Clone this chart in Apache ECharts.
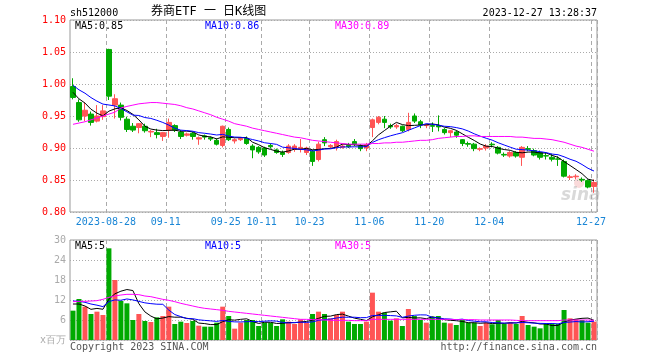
<!DOCTYPE html>
<html><head><meta charset="utf-8">
<script src="https://cdn.jsdelivr.net/npm/echarts@6/dist/echarts.min.js"></script>
<style>html,body{margin:0;padding:0;background:#fff}#c{width:660px;height:360px}</style>
</head><body><div id="c"></div>
<script>
// ---- data ----
const dates = ['2023-08-18','2023-08-21','2023-08-22','2023-08-23','2023-08-24','2023-08-25',
'2023-08-28','2023-08-29','2023-08-30','2023-08-31','2023-09-01',
'2023-09-04','2023-09-05','2023-09-06','2023-09-07','2023-09-08',
'2023-09-11','2023-09-12','2023-09-13','2023-09-14','2023-09-15',
'2023-09-18','2023-09-19','2023-09-20','2023-09-21','2023-09-22',
'2023-09-25','2023-09-26','2023-09-27','2023-09-28',
'2023-10-09','2023-10-10','2023-10-11','2023-10-12','2023-10-13',
'2023-10-16','2023-10-17','2023-10-18','2023-10-19','2023-10-20',
'2023-10-23','2023-10-24','2023-10-25','2023-10-26','2023-10-27',
'2023-10-30','2023-10-31','2023-11-01','2023-11-02','2023-11-03',
'2023-11-06','2023-11-07','2023-11-08','2023-11-09','2023-11-10',
'2023-11-13','2023-11-14','2023-11-15','2023-11-16','2023-11-17',
'2023-11-20','2023-11-21','2023-11-22','2023-11-23','2023-11-24',
'2023-11-27','2023-11-28','2023-11-29','2023-11-30','2023-12-01',
'2023-12-04','2023-12-05','2023-12-06','2023-12-07','2023-12-08',
'2023-12-11','2023-12-12','2023-12-13','2023-12-14','2023-12-15',
'2023-12-18','2023-12-19','2023-12-20','2023-12-21','2023-12-22',
'2023-12-25','2023-12-26','2023-12-27'];
// [open, close, low, high]
const ohlc = [
[0.996,0.979,0.976,1.009],[0.971,0.944,0.941,0.976],[0.950,0.959,0.942,0.971],[0.953,0.940,0.935,0.957],
[0.942,0.950,0.940,0.967],[0.949,0.958,0.944,0.967],[1.054,0.981,0.975,1.055],[0.967,0.977,0.946,0.984],
[0.967,0.948,0.943,0.971],[0.945,0.929,0.925,0.949],[0.934,0.928,0.925,0.939],[0.932,0.938,0.923,0.939],
[0.934,0.927,0.924,0.938],[0.925,0.926,0.917,0.928],[0.924,0.921,0.915,0.930],[0.918,0.924,0.911,0.925],
[0.928,0.940,0.916,0.946],[0.935,0.928,0.925,0.937],[0.925,0.918,0.914,0.928],[0.920,0.922,0.918,0.924],
[0.923,0.918,0.913,0.925],[0.914,0.916,0.905,0.918],[0.919,0.917,0.913,0.921],[0.916,0.914,0.911,0.918],
[0.912,0.906,0.904,0.915],[0.904,0.934,0.901,0.935],[0.929,0.913,0.911,0.932],[0.911,0.913,0.907,0.915],
[0.913,0.915,0.911,0.917],[0.915,0.907,0.905,0.918],[0.903,0.897,0.884,0.906],[0.901,0.894,0.891,0.903],
[0.900,0.889,0.886,0.902],[0.904,0.902,0.899,0.907],[0.897,0.893,0.891,0.899],[0.893,0.890,0.886,0.896],
[0.893,0.903,0.891,0.906],[0.898,0.903,0.894,0.906],[0.899,0.901,0.893,0.914],[0.893,0.900,0.889,0.902],
[0.895,0.879,0.872,0.897],[0.882,0.906,0.879,0.910],[0.913,0.908,0.903,0.917],[0.902,0.904,0.900,0.906],
[0.902,0.910,0.896,0.913],[0.901,0.903,0.899,0.906],[0.904,0.902,0.900,0.908],[0.910,0.906,0.903,0.914],
[0.903,0.899,0.895,0.906],[0.900,0.905,0.895,0.908],[0.932,0.944,0.917,0.946],[0.940,0.948,0.937,0.950],
[0.945,0.940,0.931,0.950],[0.935,0.933,0.930,0.938],[0.933,0.935,0.930,0.938],[0.934,0.927,0.925,0.935],
[0.929,0.940,0.926,0.955],[0.950,0.942,0.939,0.954],[0.941,0.936,0.931,0.944],[0.935,0.936,0.931,0.938],
[0.935,0.934,0.925,0.940],[0.935,0.933,0.926,0.951],[0.929,0.924,0.921,0.931],[0.924,0.927,0.917,0.928],
[0.925,0.920,0.916,0.927],[0.913,0.907,0.903,0.914],[0.907,0.906,0.902,0.910],[0.906,0.899,0.895,0.908],
[0.898,0.899,0.895,0.901],[0.900,0.903,0.896,0.906],[0.906,0.905,0.901,0.909],[0.901,0.892,0.890,0.903],
[0.890,0.889,0.886,0.893],[0.8875,0.893,0.885,0.895],[0.893,0.8875,0.885,0.895],[0.8855,0.901,0.872,0.903],
[0.899,0.898,0.895,0.903],[0.896,0.889,0.887,0.899],[0.893,0.8855,0.882,0.896],[0.888,0.8875,0.882,0.893],
[0.8855,0.8825,0.879,0.891],[0.883,0.8825,0.872,0.887],[0.879,0.856,0.854,0.882],[0.854,0.855,0.850,0.858],
[0.855,0.856,0.851,0.859],[0.851,0.850,0.847,0.854],[0.849,0.839,0.837,0.851],[0.840,0.846,0.830,0.851]];
// volume, millions
const volume = [8.8,12.3,10.0,7.8,8.5,7.5,27.5,18.0,11.7,11.0,
6.0,7.8,5.7,5.4,6.8,7.2,10.0,4.8,5.5,5.1,
5.7,4.3,4.0,4.0,5.2,10.0,7.2,3.4,5.2,6.0,
6.0,4.2,5.2,5.2,4.2,6.2,5.5,4.8,6.2,5.2,
7.8,8.5,7.8,6.5,7.5,8.5,5.5,4.8,4.8,5.5,
14.2,8.5,8.2,5.8,6.5,4.2,9.3,7.2,6.0,5.2,
7.0,7.2,5.2,5.0,4.5,6.0,5.2,5.2,4.2,5.2,
4.7,6.0,4.8,5.2,4.8,7.2,4.5,4.0,3.5,4.8,
4.8,4.8,9.0,6.5,6.2,6.0,5.2,5.5];
// closes / volumes of the sessions just before the window (for MA5/MA10 start)
const priorClose = [1.015,1.012,1.008,1.006,1.004,0.995,0.992,0.988,0.981];
const priorVolume = [13.2,13.0,12.9,12.0,11.9,12.3,13.0,12.8,7.1];
// MA30
const priceMA30 = [0.937,0.939,0.941,0.944,0.947,0.950,0.953,0.956,0.9625,0.965,
0.967,0.969,0.970,0.971,0.971,0.970,0.969,0.968,0.966,0.963,
0.961,0.958,0.955,0.952,0.948,0.945,0.942,0.938,0.936,0.934,
0.931,0.929,0.927,0.925,0.923,0.921,0.919,0.917,0.916,0.914,
0.912,0.911,0.910,0.909,0.908,0.907,0.906,0.906,0.906,0.906,
0.907,0.907,0.908,0.908,0.909,0.909,0.910,0.911,0.912,0.912,
0.913,0.915,0.916,0.917,0.918,0.918,0.919,0.919,0.918,0.918,
0.918,0.918,0.918,0.918,0.917,0.917,0.916,0.915,0.915,0.914,
0.913,0.911,0.909,0.906,0.903,0.901,0.898,0.895];
const volMA30 = [11.5,11.6,11.6,11.7,11.8,12.2,12.8,13.2,13.5,13.7,
13.7,13.6,13.2,13.0,12.6,12.2,11.9,11.5,11.0,10.6,
10.2,9.8,9.5,9.3,9.1,8.9,8.6,8.4,8.2,8.0,
7.8,7.6,7.4,7.2,7.0,6.8,6.6,6.4,6.2,6.2,
6.1,6.1,6.0,5.9,5.9,5.9,5.9,5.8,5.8,5.8,
6.2,6.2,6.2,6.2,6.2,6.2,6.2,6.2,6.2,6.2,
6.2,6.2,6.2,6.2,6.1,6.1,6.1,6.1,6.0,6.0,
6.0,6.0,6.0,6.0,5.9,5.8,5.8,5.8,5.8,5.8,
5.8,5.8,6.0,6.0,6.0,6.0,6.0,5.9];
const tickDates = ['2023-08-28','2023-09-11','2023-09-25','2023-10-11','2023-10-23','2023-11-06','2023-11-20','2023-12-04','2023-12-27'];
const priceLegend = ['MA5:0.85','MA10:0.86','MA30:0.89'];
const volLegend = ['MA5:5','MA10:5','MA30:5'];

// ---- build ----
const UP = '#ff5555', DOWN = '#00aa00';
const closes = ohlc.map(d => d[1]);
function ma(vals, prior, n) {
  const all = prior.concat(vals), off = prior.length;
  return vals.map((_, i) => {
    let s = 0; for (let k = 0; k < n; k++) s += all[off + i - k];
    return +(s / n).toFixed(4);
  });
}
const candle = ohlc.map(d => [d[0], d[1], d[2], d[3]]);
const volBars = volume.map((v, i) => ({ value: v, itemStyle: { color: ohlc[i][1] >= ohlc[i][0] ? UP : DOWN } }));
const tickIdx = tickDates.map(d => dates.indexOf(d));
const isTick = i => tickIdx.indexOf(i) >= 0;
const MONO = '"DejaVu Sans Mono", monospace';
const gridLine = { show: true, interval: (i) => isTick(i), lineStyle: { color: '#aaaaaa', type: [4, 3], width: 1 } };
const lineS = (data, color, xi, yi) => ({ type: 'line', data, xAxisIndex: xi, yAxisIndex: yi, showSymbol: false, symbol: 'none', silent: true, lineStyle: { color, width: 1 }, z: 5 });

const chart = echarts.init(document.getElementById('c'), null, { renderer: 'canvas' });
chart.setOption({
  animation: false,
  backgroundColor: '#fff',
  textStyle: { fontFamily: MONO },
  grid: [
    { left: 70, top: 20, width: 527, height: 192, show: true, borderColor: '#999999', borderWidth: 1, backgroundColor: 'transparent' },
    { left: 70, top: 240, width: 527, height: 100, show: true, borderColor: '#999999', borderWidth: 1, backgroundColor: 'transparent' }
  ],
  xAxis: [
    { type: 'category', gridIndex: 0, data: dates, boundaryGap: true,
      axisLine: { show: false }, axisTick: { show: false },
      axisLabel: { show: true, interval: (i) => isTick(i), margin: 5, color: '#1a86d6', fontFamily: MONO, fontSize: 10,
        padding: [0, 6, 0, 0],
        formatter: (v, i) => (i === tickIdx[0] ? v : v.slice(5)) },
      splitLine: gridLine },
    { type: 'category', gridIndex: 1, data: dates, boundaryGap: true,
      axisLine: { show: false }, axisTick: { show: false }, axisLabel: { show: false },
      splitLine: gridLine }
  ],
  yAxis: [
    { type: 'value', gridIndex: 0, min: 0.80, max: 1.10, interval: 0.05,
      axisLine: { show: false }, axisTick: { show: false },
      axisLabel: { color: '#ff0000', fontFamily: MONO, fontSize: 10, margin: 4, formatter: v => v.toFixed(2) },
      splitLine: { show: true, lineStyle: { color: '#aaaaaa', type: [1, 2], width: 1 } } },
    { type: 'value', gridIndex: 1, min: 0, max: 30, interval: 6,
      axisLine: { show: false }, axisTick: { show: false },
      axisLabel: { color: '#aaaaaa', fontFamily: MONO, fontSize: 10, margin: 4, formatter: v => (v === 0 ? 'x百万' : String(v)) },
      splitLine: { show: true, lineStyle: { color: '#aaaaaa', type: [1, 2], width: 1 } } }
  ],
  series: [
    { type: 'candlestick', xAxisIndex: 0, yAxisIndex: 0, data: candle, barWidth: 5, silent: true,
      itemStyle: { color: UP, color0: DOWN, borderColor: UP, borderColor0: DOWN, borderWidth: 1 } },
    lineS(ma(closes, priorClose, 5), '#000000', 0, 0),
    lineS(ma(closes, priorClose, 10), '#0000ff', 0, 0),
    lineS(priceMA30, '#ff00ff', 0, 0),
    { type: 'bar', xAxisIndex: 1, yAxisIndex: 1, data: volBars, barWidth: 5, silent: true },
    lineS(ma(volume, priorVolume, 5), '#000000', 1, 1),
    lineS(ma(volume, priorVolume, 10), '#0000ff', 1, 1),
    lineS(volMA30, '#ff00ff', 1, 1)
  ],
  graphic: [
    { type: 'text', x: 70, y: 13, style: { text: 'sh512000', fill: '#000', font: '10px ' + MONO, textAlign: 'left', textVerticalAlign: 'middle' } },
    { type: 'text', x: 151, y: 12, style: { text: '券商ETF 一 日K线图', fill: '#000', font: '12px "DejaVu Sans Mono", "Noto Sans CJK SC"', textAlign: 'left', textVerticalAlign: 'middle' } },
    { type: 'text', x: 597, y: 13, style: { text: '2023-12-27 13:28:37', fill: '#000', font: '10px ' + MONO, textAlign: 'right', textVerticalAlign: 'middle' } },
    { type: 'text', x: 75, y: 26, style: { text: priceLegend[0], fill: '#000000', font: '10px ' + MONO, textVerticalAlign: 'middle' } },
    { type: 'text', x: 205, y: 26, style: { text: priceLegend[1], fill: '#0000ff', font: '10px ' + MONO, textVerticalAlign: 'middle' } },
    { type: 'text', x: 335, y: 26, style: { text: priceLegend[2], fill: '#ff00ff', font: '10px ' + MONO, textVerticalAlign: 'middle' } },
    { type: 'text', x: 75, y: 246, style: { text: volLegend[0], fill: '#000000', font: '10px ' + MONO, textVerticalAlign: 'middle' } },
    { type: 'text', x: 205, y: 246, style: { text: volLegend[1], fill: '#0000ff', font: '10px ' + MONO, textVerticalAlign: 'middle' } },
    { type: 'text', x: 335, y: 246, style: { text: volLegend[2], fill: '#ff00ff', font: '10px ' + MONO, textVerticalAlign: 'middle' } },
    { type: 'text', x: 70, y: 347, style: { text: 'Copyright 2023 SINA.COM', fill: '#555555', font: '10px ' + MONO, textVerticalAlign: 'middle' } },
    { type: 'text', x: 597, y: 347, style: { text: 'http://finance.sina.com.cn', fill: '#555555', font: '10px ' + MONO, textAlign: 'right', textVerticalAlign: 'middle' } },
    { type: 'circle', shape: { cx: 579, cy: 183, r: 5 }, style: { fill: 'rgba(240,150,150,0.35)' }, silent: true },
    { type: 'text', x: 561, y: 196, style: { text: 'sina', fill: 'rgba(170,170,170,0.45)', font: 'italic bold 17px "DejaVu Sans"', textVerticalAlign: 'middle' }, silent: true }
  ]
});
</script></body></html>
